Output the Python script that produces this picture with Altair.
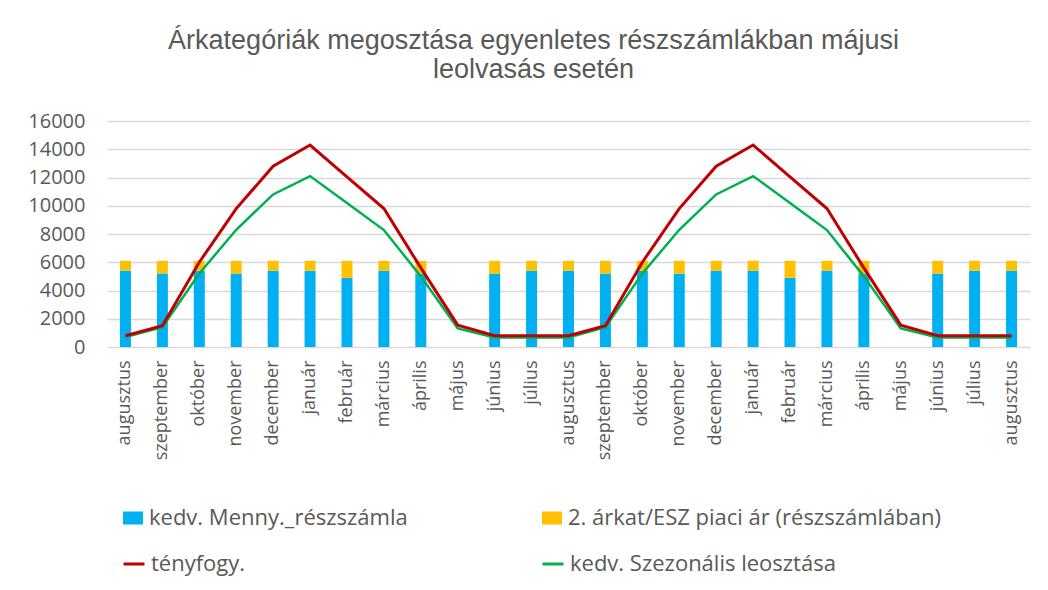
import altair as alt
import pandas as pd

months = ["augusztus", "szeptember", "október", "november", "december", "január",
          "február", "március", "április", "május", "június", "július",
          "augusztus", "szeptember", "október", "november", "december", "január",
          "február", "március", "április", "május", "június", "július", "augusztus"]

blue = [5400, 5200, 5400, 5200, 5400, 5400, 4900, 5400, 5200, 0, 5200, 5400,
        5400, 5200, 5400, 5200, 5400, 5400, 4900, 5400, 5200, 0, 5200, 5400, 5400]
yellow = [700, 900, 700, 900, 700, 700, 1200, 700, 900, 0, 900, 700,
          700, 900, 700, 900, 700, 700, 1200, 700, 900, 0, 900, 700, 700]
red = [800, 1500, 6000, 9800, 12800, 14300, 12050, 9800, 5600, 1550, 800, 800,
       800, 1500, 6000, 9800, 12800, 14300, 12050, 9800, 5600, 1550, 800, 800, 800]
green = [700, 1400, 5200, 8300, 10800, 12100, 10200, 8280, 5000, 1320, 680, 680,
         680, 1400, 5200, 8300, 10800, 12100, 10200, 8280, 5000, 1320, 680, 680, 680]

y_ticks = [0, 2000, 4000, 6000, 8000, 10000, 12000, 14000, 16000]

series_names = ["kedv. Menny._részszámla", "2. árkat/ESZ piaci ár (részszámlában)",
                "tényfogy.", "kedv. Szezonális leosztása"]
series_colors = ["#00B0F0", "#FFC000", "#C00000", "#00B050"]

df = pd.DataFrame({
    "i": list(range(len(months))),
    "month": months,
    "blue": blue,
    "yellow": yellow,
    "red": red,
    "green": green,
})
df["top"] = df["blue"] + df["yellow"]

FONT = "Open Sans"
TXT = "#595959"

label_expr = "[" + ",".join("'%s'" % m for m in months) + "][datum.value]"

x_enc = alt.X("i:O", title=None,
              scale=alt.Scale(paddingInner=0, paddingOuter=0),
              axis=alt.Axis(labelExpr=label_expr, labelAngle=270, ticks=False,
                            domain=False, labelPadding=13, labelFont=FONT,
                            labelFontSize=18, labelColor=TXT, grid=False,
                            labelOverlap=False))
y_scale = alt.Scale(domain=[0, 16000])
y_axis = alt.Axis(values=y_ticks, format="d", labelOverlap=False, ticks=False,
                  domain=False, labelPadding=22, labelFont=FONT, labelFontSize=20,
                  labelColor=TXT, gridColor="#d9d9d9", gridWidth=1.3, title=None)

rect_path = "M-1,-0.65H1V0.65H-1Z"


def legend(x, y, rect=True):
    kw = dict(orient="none", legendX=x, legendY=y, title=None, labelFont=FONT,
              labelFontSize=22, labelColor=TXT, labelOffset=5, labelLimit=600)
    if rect:
        kw.update(symbolType=rect_path, symbolSize=400, symbolStrokeWidth=0)
    else:
        kw.update(symbolType="stroke", symbolSize=440, symbolStrokeWidth=3)
    return alt.Legend(**kw)


def color(k, lx, ly, rect):
    return alt.Color("s:N",
                     scale=alt.Scale(domain=[series_names[k]], range=[series_colors[k]]),
                     legend=legend(lx, ly, rect))


base = alt.Chart(df)

bar_blue = base.mark_bar(size=11).transform_calculate(
    s="'" + series_names[0] + "'").encode(
    x=x_enc, y=alt.Y("blue:Q", scale=y_scale, axis=y_axis),
    color=color(0, 15, 386, True))

bar_yellow = base.mark_bar(size=11).transform_calculate(
    s="'" + series_names[1] + "'").encode(
    x=x_enc, y=alt.Y("blue:Q", scale=y_scale, axis=y_axis), y2="top:Q",
    color=color(1, 434, 386, True))

line_green = base.mark_line(strokeWidth=2.5).transform_calculate(
    s="'" + series_names[3] + "'").encode(
    x=x_enc, y=alt.Y("green:Q", scale=y_scale, axis=y_axis),
    color=color(3, 434, 431, False))

line_red = base.mark_line(strokeWidth=3).transform_calculate(
    s="'" + series_names[2] + "'").encode(
    x=x_enc, y=alt.Y("red:Q", scale=y_scale, axis=y_axis),
    color=color(2, 15, 431, False))

chart = alt.layer(bar_blue, bar_yellow, line_green, line_red).resolve_scale(
    color="independent"
).properties(
    width=923, height=226,
    title=alt.TitleParams(
        ["Árkategóriák megosztása  egyenletes részszámlákban májusi",
         "leolvasás esetén"],
        font="Liberation Sans", fontSize=27, fontWeight="normal", color=TXT,
        anchor="middle", dx=-35, offset=27, lineHeight=29),
    autosize=alt.AutoSizeParams(type="none"),
    padding={"left": 99, "top": 113, "right": 10, "bottom": 235},
).configure_view(stroke=None).configure_axisY(
    labelFont=FONT, labelFontSize=20, labelColor=TXT, labelPadding=22,
    ticks=False, domain=False, gridColor="#d9d9d9", gridWidth=1.3,
    labelOverlap=False, tickCount=9
)

chart.save("out.html", embed_options={"renderer": "svg", "actions": False})
